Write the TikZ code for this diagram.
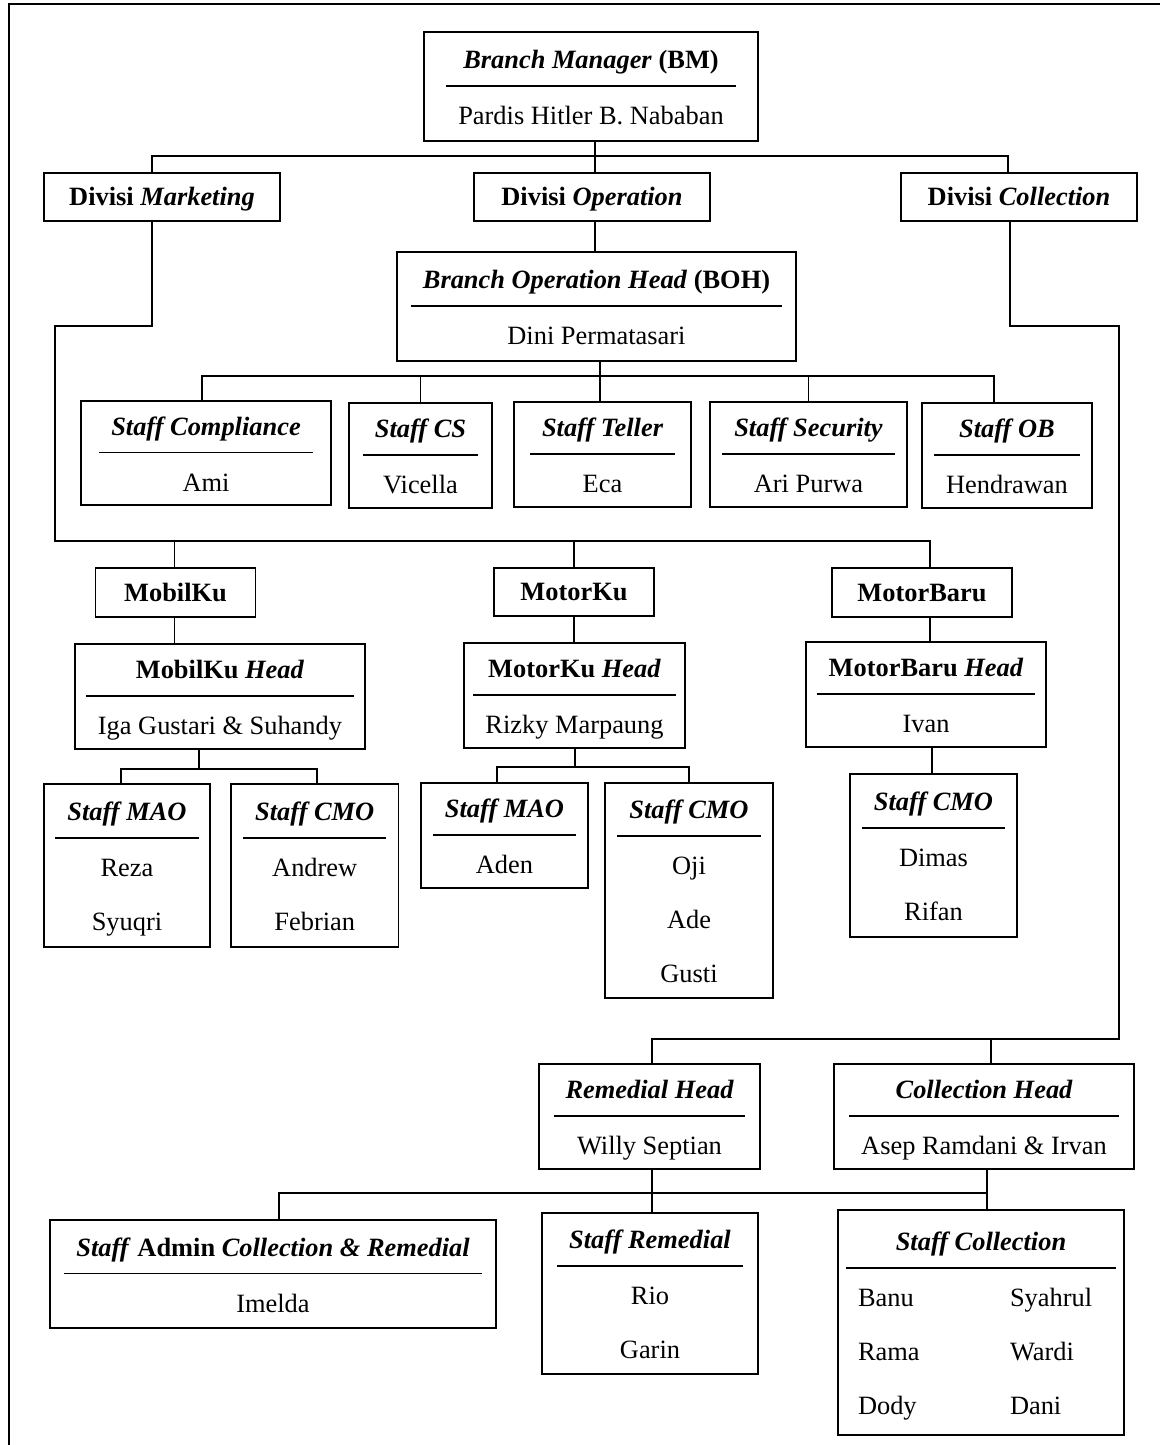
\documentclass[tikz,border=0pt]{standalone}
\usepackage{fontspec}
\setmainfont{Liberation Serif}
\usepackage{array}

\setlength{\arrayrulewidth}{0.9pt}
\newcommand{\bfit}[1]{{\bfseries\itshape #1}}
% title, rule, then the names (names split by \\[11pt])
\newcommand{\unitcell}[2]{\begin{tabular}{c}\rule{0pt}{15pt}#1\\[3.5pt]\hline\rule{0pt}{19pt}#2\end{tabular}}

\begin{document}
\begin{tikzpicture}[x=0.5pt,y=-0.5pt]
    \tikzset{unit/.style = {draw,
        line width  = 0.9pt,
        inner sep   = 0pt,
        outer sep   = 0pt,
        font        = \fontsize{13.2}{16}\selectfont
        },
        tag/.style  = {unit, text height=8.7pt, text depth=0pt},
        link/.style = {line width=0.9pt}}

    \useasboundingbox (0,0) rectangle (1160,1445);
    \draw[link] (9,1445) -- (9,4) -- (1160,4);

    % Top of the chart.
    \node[unit, minimum width=167pt, minimum height=54.5pt] (bm) at (591,86.5)
        {\unitcell{\bfit{Branch Manager} \textbf{(BM)}}{Pardis Hitler B. Nababan}};

    \node[tag, minimum width=118pt, minimum height=24pt] (dmkt) at (162,197) {\textbf{Divisi \textit{Marketing}}};
    \node[tag, minimum width=118pt, minimum height=24pt] (dopr) at (592,197) {\textbf{Divisi \textit{Operation}}};
    \node[tag, minimum width=118pt, minimum height=24pt] (dcol) at (1019,197) {\textbf{Divisi \textit{Collection}}};

    \draw[link] ([xshift=2pt]bm.south) -- ++(0,15) coordinate (topbus);
    \draw[link] ([xshift=-5pt]dmkt.north) |- (topbus);
    \draw[link] ([xshift=1.5pt]dopr.north) |- (topbus);
    \draw[link] ([xshift=-5.5pt]dcol.north) |- (topbus);

    % Operation.
    \node[unit, minimum width=199.5pt, minimum height=54.5pt] (boh) at (596.5,306.5)
        {\unitcell{\bfit{Branch Operation Head} \textbf{(BOH)}}{Dini Permatasari}};
    \draw[link] ([xshift=1.5pt]dopr.south) -- ([xshift=1.5pt]dopr.south |- boh.north);

    \node[unit, minimum width=125pt, minimum height=52pt] (scomp) at (206,453)
        {\unitcell{\bfit{Staff Compliance}}{Ami}};
    \node[unit, minimum width=71.5pt, minimum height=52.5pt] (scs) at (420.5,455.5)
        {\unitcell{\bfit{Staff CS}}{Vicella}};
    \node[unit, minimum width=88.5pt, minimum height=52.5pt] (stel) at (602.5,454.5)
        {\unitcell{\bfit{Staff Teller}}{Eca}};
    \node[unit, minimum width=98.5pt, minimum height=52.5pt] (ssec) at (808.5,454.5)
        {\unitcell{\bfit{Staff Security}}{Ari Purwa}};
    \node[unit, minimum width=85pt, minimum height=52.5pt] (sob) at (1007,455.5)
        {\unitcell{\bfit{Staff OB}}{Hendrawan}};

    \draw[link] ([xshift=1.75pt]boh.south) -- ++(0,15) coordinate (bohbus);
    \draw[link] ([xshift=-2pt]scomp.north) |- (bohbus);
    \draw[link] (scs.north) |- (bohbus);
    \draw[link] ([xshift=-1.25pt]stel.north) |- (bohbus);
    \draw[link] (ssec.north) |- (bohbus);
    \draw[link] ([xshift=-6.5pt]sob.north) |- (bohbus);

    % Marketing.
    \coordinate (mktL) at (55,326);
    \coordinate (mktbus) at (55,541);

    \node[tag, minimum width=80pt, minimum height=24.5pt] (mobilku) at (175.5,592.5) {\textbf{MobilKu}};
    \node[tag, minimum width=80pt, minimum height=24pt] (motorku) at (574,592) {\textbf{MotorKu}};
    \node[tag, minimum width=90pt, minimum height=24.5pt] (motorbaru) at (922,592.5) {\textbf{MotorBaru}};

    \draw[link] ([xshift=-5pt]dmkt.south) |- (mktL) -- (mktbus) -| ([xshift=4pt]motorbaru.north);
    \draw[link] ([xshift=-0.5pt]mobilku.north) |- (mktbus);
    \draw[link] (motorku.north) |- (mktbus);

    \node[unit, minimum width=145pt, minimum height=52.5pt] (mkhead) at (220,696.5)
        {\unitcell{\textbf{MobilKu \textit{Head}}}{Iga Gustari \& Suhandy}};
    \node[unit, minimum width=110.5pt, minimum height=52.5pt] (mthead) at (574.5,695.5)
        {\unitcell{\textbf{MotorKu \textit{Head}}}{Rizky Marpaung}};
    \node[unit, minimum width=120pt, minimum height=52.5pt] (mbhead) at (926,694.5)
        {\unitcell{\textbf{MotorBaru \textit{Head}}}{Ivan}};

    \draw[link] ([xshift=-0.5pt]mobilku.south) -- ([xshift=-0.5pt]mobilku.south |- mkhead.north);
    \draw[link] (motorku.south) -- (motorku.south |- mthead.north);
    \draw[link] ([xshift=4pt]motorbaru.south) -- ([xshift=4pt]motorbaru.south |- mbhead.north);

    \node[unit, minimum width=83pt, minimum height=81.5pt] (mao1) at (127,865.5)
        {\unitcell{\bfit{Staff MAO}}{Reza\\[11pt]Syuqri}};
    \node[unit, minimum width=83.75pt, minimum height=81.5pt] (cmo1) at (314.75,865.5)
        {\unitcell{\bfit{Staff CMO}}{Andrew\\[11pt]Febrian}};
    \node[unit, minimum width=83.5pt, minimum height=52.5pt] (mao2) at (504.5,835.5)
        {\unitcell{\bfit{Staff MAO}}{Aden}};
    \node[unit, minimum width=84pt, minimum height=107.5pt] (cmo2) at (689,890.5)
        {\unitcell{\bfit{Staff CMO}}{Oji\\[11pt]Ade\\[11pt]Gusti}};
    \node[unit, minimum width=83.5pt, minimum height=81.5pt] (cmo3) at (933.5,855.5)
        {\unitcell{\bfit{Staff CMO}}{Dimas\\[11pt]Rifan}};

    \draw[link] ([xshift=-10.5pt]mkhead.south) -- ++(0,20) coordinate (mkbus);
    \draw[link] ([xshift=-3pt]mao1.north) |- (mkbus);
    \draw[link] ([xshift=1pt]cmo1.north) |- (mkbus);
    \draw[link] ([xshift=0.25pt]mthead.south) -- ++(0,19) coordinate (mtbus);
    \draw[link] ([xshift=-3.75pt]mao2.north) |- (mtbus);
    \draw[link] (cmo2.north) |- (mtbus);
    \draw[link] ([xshift=3pt]mbhead.south) -- ([xshift=3pt]mbhead.south |- cmo3.north);

    % Collection.
    \coordinate (colR) at (1119,326);
    \coordinate (colbus) at (1119,1039);

    \node[unit, minimum width=110.5pt, minimum height=52.5pt] (remhead) at (649.5,1116.5)
        {\unitcell{\bfit{Remedial Head}}{Willy Septian}};
    \node[unit, minimum width=150pt, minimum height=52.5pt] (colhead) at (984,1116.5)
        {\unitcell{\bfit{Collection Head}}{Asep Ramdani \& Irvan}};

    \draw[link] ([xshift=-4.5pt]dcol.south) |- (colR) -- (colbus) -| ([xshift=1.25pt]remhead.north);
    \draw[link] ([xshift=3.5pt]colhead.north) |- (colbus);

    \node[unit, minimum width=223pt, minimum height=54pt] (sadm) at (273,1274)
        {\unitcell{\bfit{Staff} \textbf{Admin} \bfit{Collection \& Remedial}}{Imelda}};
    \node[unit, minimum width=108pt, minimum height=80.5pt] (srem) at (650,1293.5)
        {\unitcell{\bfit{Staff Remedial}}{Rio\\[11pt]Garin}};
    \node[unit, minimum width=143pt, minimum height=112.5pt] (scol) at (981,1322.5)
        {\begin{tabular}{p{64pt}p{47pt}}
            \multicolumn{2}{c}{\rule{0pt}{15pt}\bfit{Staff Collection}}\\[3.5pt]\hline
            \rule{0pt}{19pt}Banu & Syahrul\\[11pt]
            Rama & Wardi\\[11pt]
            Dody & Dani
        \end{tabular}};

    \draw[link] ([xshift=1.5pt]colhead.south) -- ++(0,24) coordinate (lowbus)
        -- ([xshift=1.5pt]colhead.south |- scol.north);
    \draw[link] ([xshift=1.25pt]remhead.south) -- ([xshift=1.25pt]remhead.south |- srem.north);
    \draw[link] ([xshift=3pt]sadm.north) |- (lowbus);
\end{tikzpicture}
\end{document}
